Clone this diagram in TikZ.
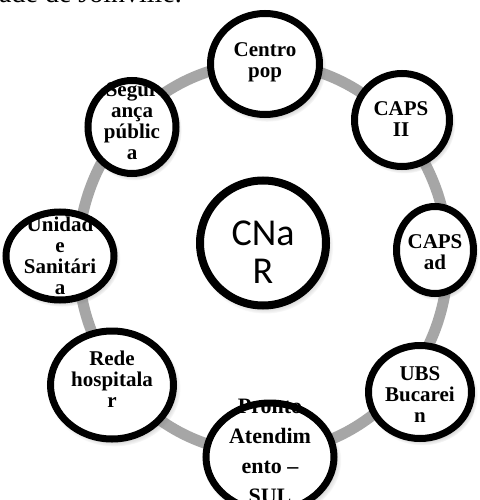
\documentclass[tikz,border=0pt]{standalone}
\usepackage{fontspec}
\setmainfont{Liberation Serif}
\newfontfamily\cnarfont{Carlito}
\usetikzlibrary{shapes.geometric,shadows}
\definecolor{ringgray}{HTML}{A6A6A6}
\begin{document}
\begin{tikzpicture}[x=1pt, y=-1pt,
    bubble/.style={ellipse, draw, line width=7pt, fill=white, inner sep=0pt,
        circular drop shadow={shadow xshift=2pt, shadow yshift=-3pt, shadow scale=1.08, opacity=0.5}},
    bubble text/.style={align=center, inner sep=0pt, font=\fontsize{21}{21}\selectfont\bfseries}]
    \useasboundingbox (0,0) rectangle (479,500);
    \clip (0,0) rectangle (479,500);
    \node[anchor=base west, inner sep=0pt, font=\fontsize{28}{30}\selectfont] (title) at (-1,3) {ade de Joinville.};
    \draw[ringgray, line width=11pt] (263,258) ellipse [x radius=185pt, y radius=195pt];

    \node[bubble, minimum width=109pt, minimum height=101pt] (centro) at (265,64) {};
    \node[bubble, minimum width=95pt, minimum height=93pt] (capsii) at (402,120) {};
    \node[bubble, minimum width=77pt, minimum height=87pt] (capsad) at (435,250) {};
    \node[bubble, minimum width=103pt, minimum height=93pt] (ubs) at (420,392) {};
    \node[bubble, minimum width=128pt, minimum height=108pt] (pronto) at (270,457) {};
    \node[bubble, minimum width=123pt, minimum height=108pt] (rede) at (112,385) {};
    \node[bubble, minimum width=108pt, minimum height=88pt] (unidade) at (60,256) {};
    \node[bubble, minimum width=88pt, minimum height=93pt] (seguranca) at (132,127) {};
    \node[bubble, line width=8pt, minimum width=126pt, minimum height=125pt] (cnar) at (263,243) {};

    \node[bubble text] (centrotxt) at (265,62) {Centro\\pop};
    \node[bubble text] (capsiitxt) at (401,119) {CAPS\\II};
    \node[bubble text] (capsadtxt) at (435,252) {CAPS\\ad};
    \node[bubble text] (ubstxt) at (420,395) {UBS\\Bucarei\\n};
    \node[bubble text, font=\fontsize{22}{30}\selectfont\bfseries] (prontotxt) at (270,451) {Pronto\\Atendim\\ento --\\SUL};
    \node[bubble text] (redetxt) at (112,379) {Rede\\hospitala\\r};
    \node[bubble text] (unidadetxt) at (60,256) {Unidad\\e\\Sanitári\\a};
    \node[bubble text] (segurancatxt) at (132,121) {Segur\\ança\\públic\\a};
    \node[bubble text, font=\cnarfont\fontsize{38}{38}\selectfont] (cnartxt) at (263,252) {CNa\\R};
\end{tikzpicture}
\end{document}
